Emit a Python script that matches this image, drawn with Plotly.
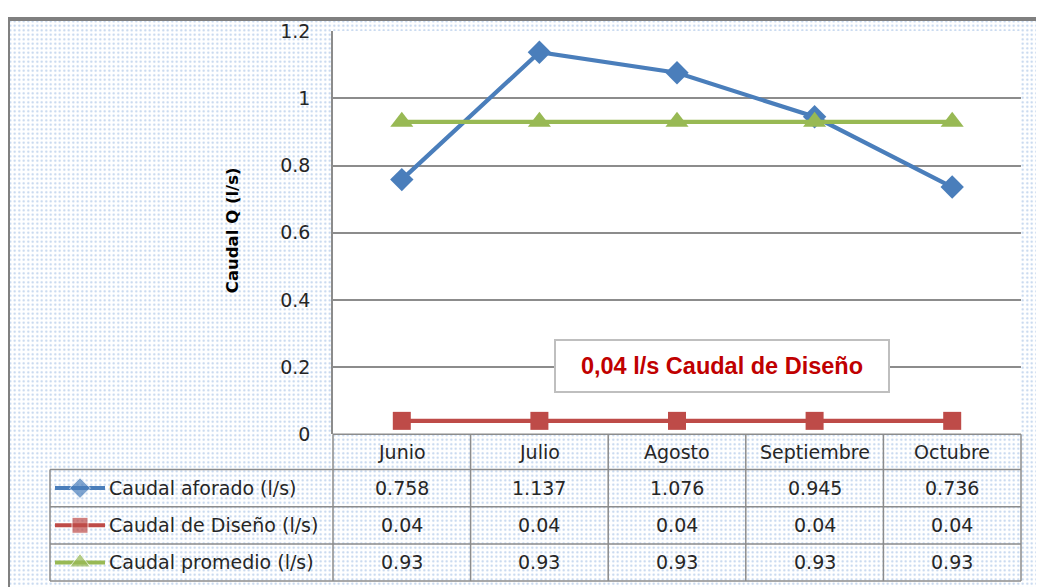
import plotly.graph_objects as go

months = ["Junio", "Julio", "Agosto", "Septiembre", "Octubre"]
series_names = ["Caudal aforado (l/s)", "Caudal de Diseño (l/s)", "Caudal promedio (l/s)"]
aforado = [0.758, 1.137, 1.076, 0.945, 0.736]
diseno = [0.04, 0.04, 0.04, 0.04, 0.04]
promedio = [0.93, 0.93, 0.93, 0.93, 0.93]
y_ticks = [0, 0.2, 0.4, 0.6, 0.8, 1, 1.2]
y_tick_text = ["0", "0.2", "0.4", "0.6", "0.8", "1", "1.2"]

# figure size and the (measured) mapping page -> photographed screen
OFF = 8                      # body margin of the html page
W, H = 1036, 592
VS, VB = 0.9576, 11.3        # screen_y = VS * page_y + VB

# layout positions in screen pixels (as seen in the reference)
PX0, PX1, PY0, PY1 = 333, 1021, 31, 432
row_edges = [432, 467, 504, 541, 578]
TABLE_LEFT = 50

colors = ["#4a7ebb", "#be4b48", "#98b954"]
symbols = ["diamond", "square", "triangle-up"]
msizes = [18, 18, 20]
all_series = [aforado, diseno, promedio]

FONT = "DejaVu Sans, Verdana, sans-serif"

def px(x):
    return (x - OFF) / W

def py(y):
    page = (y - VB) / VS
    return 1 - (page - OFF) / H

# screen extents of the paper
SX0, SX1 = OFF, OFF + W
SY_TOP = VS * OFF + VB
SY_BOT = VS * (OFF + H) + VB

fig = go.Figure()

# dotted background (outside plot area) on full-page screen-pixel axes (first subplot, underneath)
bx, by = [], []
rects = [(SX0, SY_TOP, SX1, PY0), (SX0, PY1, SX1, SY_BOT), (SX0, PY0, PX0, PY1), (PX1, PY0, SX1, PY1)]
for (x0, y0, x1, y1) in rects:
    bx += [x0, x1, x1, x0, x0, None]
    by += [y0, y0, y1, y1, y0, None]
fig.add_trace(go.Scatter(
    x=bx, y=by, xaxis="x", yaxis="y", mode="none", fill="toself",
    fillcolor="white",
    fillpattern=dict(shape=".", size=4.5, solidity=0.18, fgcolor="#7fa6d9", bgcolor="white"),
    hoverinfo="skip", showlegend=False))

# legend keys inside the table
for i, name in enumerate(series_names):
    yc = (row_edges[i + 1] + row_edges[i + 2]) / 2
    fig.add_trace(go.Scatter(
        x=[55, 80, 105], y=[yc, yc, yc], xaxis="x", yaxis="y",
        mode="lines+markers",
        line=dict(color=colors[i], width=4),
        marker=dict(symbol=symbols[i], size=[0, msizes[i] - 2, 0], color=colors[i]),
        hoverinfo="skip", showlegend=False))

# main series (second subplot, drawn on top)
xi = list(range(len(months)))
for i, vals in enumerate(all_series):
    fig.add_trace(go.Scatter(
        x=xi, y=vals, name=series_names[i], xaxis="x2", yaxis="y2", mode="lines+markers",
        line=dict(color=colors[i], width=4.2),
        marker=dict(symbol=symbols[i], size=msizes[i], color=colors[i]),
        cliponaxis=False, showlegend=False))

shapes = []
grid = "#8c8c8c"
# outer frame (top and left)
shapes.append(dict(type="line", xref="paper", yref="paper", x0=0, x1=1, y0=1, y1=1,
                   line=dict(color="#808080", width=4), layer="above"))
shapes.append(dict(type="line", xref="paper", yref="paper", x0=0, x1=0, y0=1, y1=0,
                   line=dict(color="#808080", width=4), layer="above"))
# table horizontal lines
shapes.append(dict(type="line", xref="paper", yref="paper", x0=px(PX0), x1=px(PX1),
                   y0=py(row_edges[0]), y1=py(row_edges[0]), line=dict(color=grid, width=1.5), layer="above"))
for r in row_edges[1:]:
    shapes.append(dict(type="line", xref="paper", yref="paper", x0=px(TABLE_LEFT), x1=px(PX1),
                       y0=py(r), y1=py(r), line=dict(color=grid, width=1.5), layer="above"))
# table vertical lines
ncol = len(months)
col_w = (PX1 - PX0) / ncol
for c in range(ncol + 1):
    xx = PX0 + c * col_w
    shapes.append(dict(type="line", xref="paper", yref="paper", x0=px(xx), x1=px(xx),
                       y0=py(PY1 if c == 0 else row_edges[0]), y1=py(row_edges[-1]),
                       line=dict(color=grid, width=1.5), layer="above"))
shapes.append(dict(type="line", xref="paper", yref="paper", x0=px(TABLE_LEFT), x1=px(TABLE_LEFT),
                   y0=py(row_edges[1]), y1=py(row_edges[-1]), line=dict(color=grid, width=1.5), layer="above"))

annotations = []
font_txt = dict(family=FONT, size=19, color="#262626")
# header months
for c, m in enumerate(months):
    xc = PX0 + (c + 0.5) * col_w
    annotations.append(dict(xref="paper", yref="paper", x=px(xc), y=py((row_edges[0] + row_edges[1]) / 2),
                            text=m, showarrow=False, font=font_txt, xanchor="center", yanchor="middle"))
# values
for i, vals in enumerate(all_series):
    yc = (row_edges[i + 1] + row_edges[i + 2]) / 2
    annotations.append(dict(xref="paper", yref="paper", x=px(107), y=py(yc), text=series_names[i],
                            showarrow=False, font=font_txt, xanchor="left", yanchor="middle"))
    for c, v in enumerate(vals):
        xc = PX0 + (c + 0.5) * col_w
        annotations.append(dict(xref="paper", yref="paper", x=px(xc), y=py(yc), text=f"{v:g}",
                                showarrow=False, font=font_txt, xanchor="center", yanchor="middle"))
# y-axis title
annotations.append(dict(xref="paper", yref="paper", x=px(232), y=py(229), text="<b>Caudal Q (l/s)</b>",
                        textangle=-90, showarrow=False,
                        font=dict(family=FONT, size=16.5, color="black"),
                        xanchor="center", yanchor="middle"))
# design flow label
annotations.append(dict(xref="paper", yref="paper", x=px(722), y=py(364),
                        text="<b>0,04 l/s Caudal de Diseño</b>", showarrow=False,
                        font=dict(family="Liberation Sans, Arial, sans-serif", size=23.5, color="#c00000"),
                        bgcolor="white", bordercolor="#bfbfbf", borderwidth=2,
                        width=330, height=48, xanchor="center", yanchor="middle"))

fig.update_layout(
    width=W, height=H,
    margin=dict(l=0, r=0, t=0, b=0),
    paper_bgcolor="white",
    plot_bgcolor="rgba(0,0,0,0)",
    xaxis=dict(domain=[0, 1], range=[SX0, SX1], visible=False, fixedrange=True),
    yaxis=dict(domain=[0, 1], range=[SY_BOT, SY_TOP], visible=False, fixedrange=True),
    xaxis2=dict(domain=[px(PX0), px(PX1)], range=[-0.5, ncol - 0.5], showgrid=False, anchor="y2",
                showticklabels=False, zeroline=False, showline=False, fixedrange=True),
    yaxis2=dict(domain=[py(PY1), py(PY0)], range=[0, 1.2], tickvals=y_ticks, ticktext=y_tick_text,
                anchor="x2",
                showgrid=True, gridcolor=grid, gridwidth=1.5, zeroline=False,
                showline=True, linecolor=grid, linewidth=1.5,
                ticks="outside", ticklen=0, ticklabelstandoff=17,
                tickfont=dict(family=FONT, size=19, color="#262626"),
                fixedrange=True),
    shapes=shapes,
    annotations=annotations,
    showlegend=False,
)

fig.write_html("out.html")
